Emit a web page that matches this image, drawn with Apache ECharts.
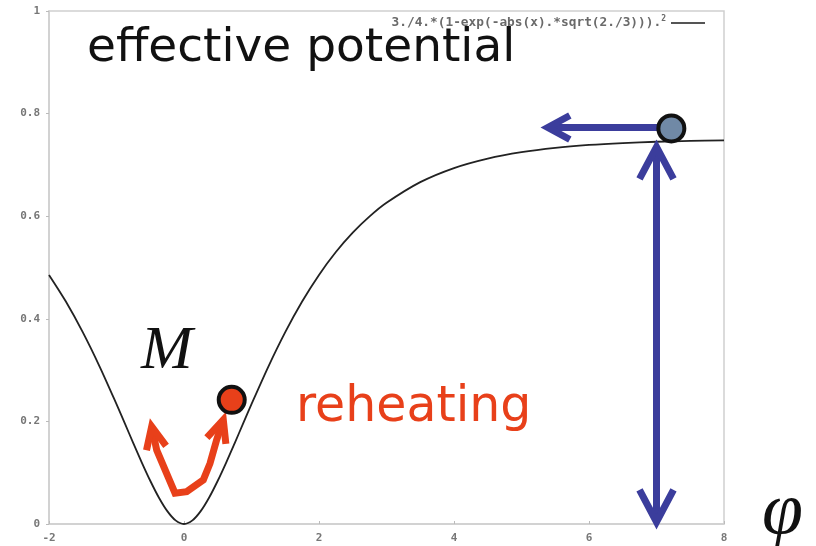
<!DOCTYPE html>
<html>
<head>
<meta charset="utf-8">
<script src="https://cdn.jsdelivr.net/npm/echarts@6/dist/echarts.min.js"></script>
<style>
  html, body { margin: 0; padding: 0; background: #fff; }
  #chart { width: 816px; height: 546px; }
</style>
</head>
<body>
<div id="chart"></div>
<script>
// Potential curve samples (phi, V)
const phiValues = [-2, -1.75, -1.5, -1.25, -1, -0.875, -0.75, -0.625, -0.5, -0.375, -0.25, -0.125, 0,
  0.125, 0.25, 0.375, 0.5, 0.625, 0.75, 0.875, 1, 1.25, 1.5, 1.75, 2, 2.25, 2.5, 2.75, 3, 3.5, 4, 4.5, 5, 5.5, 6, 6.5, 7, 7.5, 8];
const potentialValues = [0.4856, 0.4337, 0.3740, 0.3069, 0.2336, 0.1955, 0.1573, 0.1198, 0.0843, 0.0522, 0.0256, 0.0071, 0,
  0.0071, 0.0256, 0.0522, 0.0843, 0.1198, 0.1573, 0.1955, 0.2336, 0.3069, 0.3740, 0.4337, 0.4856, 0.5301, 0.5679, 0.5996, 0.6261, 0.6664, 0.6939, 0.7124, 0.7249, 0.7333, 0.7389, 0.7426, 0.7451, 0.7467, 0.7478];

const xTicks = [-2, 0, 2, 4, 6, 8];
const yTicks = [0, 0.2, 0.4, 0.6, 0.8, 1];

// Field positions
const plateauBall = [7.22, 0.771];
const reheatBall = [0.707, 0.242];

// Arrow paths in (phi, V); heads drawn at the listed ends
const rollArrow = [[7.22, 0.773], [5.39, 0.773]];
const heightArrow = [[7.0, 0.735], [7.0, 0.004]];
const oscillationArrow = [[-0.479, 0.190], [-0.404, 0.144], [-0.133, 0.060], [0.040, 0.063], [0.286, 0.086],
  [0.385, 0.118], [0.484, 0.164], [0.582, 0.203]];

const BLUE = '#3b3d9c';
const RED = '#e8401a';

const arrows = [
  { path: rollArrow, color: BLUE, width: 7, headLen: 22, headHalf: 12, heads: ['end'] },
  { path: heightArrow, color: BLUE, width: 7, headLen: 32, headHalf: 17, heads: ['start', 'end'] },
  { path: oscillationArrow, color: RED, width: 7, headLen: 22, headHalf: 10, heads: ['start', 'end'] }
];

function chevron(tip, from, len, half) {
  const dx = tip[0] - from[0], dy = tip[1] - from[1];
  const d = Math.hypot(dx, dy) || 1;
  const ux = dx / d, uy = dy / d;
  const bx = tip[0] - ux * len, by = tip[1] - uy * len;
  return [[bx - uy * half, by + ux * half], tip, [bx + uy * half, by - ux * half]];
}

function renderArrow(params, api) {
  const a = arrows[api.value(0)];
  const pts = a.path.map(p => api.coord(p));
  const style = { stroke: a.color, lineWidth: a.width, fill: null, lineJoin: 'miter', lineCap: 'butt' };
  const children = [{ type: 'polyline', shape: { points: pts }, style: style }];
  if (a.heads.indexOf('end') >= 0) {
    children.push({ type: 'polyline', shape: { points: chevron(pts[pts.length - 1], pts[pts.length - 2], a.headLen, a.headHalf) }, style: style });
  }
  if (a.heads.indexOf('start') >= 0) {
    children.push({ type: 'polyline', shape: { points: chevron(pts[0], pts[1], a.headLen, a.headHalf) }, style: style });
  }
  return { type: 'group', children: children };
}

const chart = echarts.init(document.getElementById('chart'), null, { renderer: 'canvas' });

const axisLabelStyle = { fontFamily: 'DejaVu Sans Mono', fontSize: 11, fontWeight: 'bold', color: '#777' };

chart.setOption({
  backgroundColor: '#ffffff',
  animation: false,
  grid: { left: 49, right: 92, top: 11, bottom: 22, show: true, borderColor: '#cfcfcf', borderWidth: 1.5 },
  xAxis: {
    type: 'value', min: xTicks[0], max: xTicks[xTicks.length - 1], interval: 2,
    axisLine: { onZero: false, lineStyle: { color: '#cfcfcf', width: 1.5 } },
    axisTick: { inside: true, length: 3, lineStyle: { color: '#bbb' } },
    splitLine: { show: false },
    axisLabel: Object.assign({ margin: 9 }, axisLabelStyle)
  },
  yAxis: {
    type: 'value', min: yTicks[0], max: yTicks[yTicks.length - 1], interval: 0.2,
    axisLine: { show: true, onZero: false, lineStyle: { color: '#cfcfcf', width: 1.5 } },
    axisTick: { show: true, length: 3, lineStyle: { color: '#bbb' } },
    splitLine: { show: false },
    axisLabel: Object.assign({ margin: 9 }, axisLabelStyle)
  },
  legend: {
    right: 106, top: 10,
    align: 'right',
    itemWidth: 34, itemHeight: 10, itemGap: 0,
    icon: 'path://M0,4 L34,4 L34,6 L0,6 Z',
    data: [{ name: 'V', itemStyle: { color: '#555' } }],
    formatter: () => '{t|3./4.*(1-exp(-abs(x).*sqrt(2./3))).}{s|2}',
    textStyle: {
      rich: {
        t: { fontFamily: 'DejaVu Sans Mono', fontSize: 12.8, fontWeight: 'bold', color: '#6a6a6a' },
        s: { fontFamily: 'DejaVu Sans Mono', fontSize: 8, fontWeight: 'bold', color: '#6a6a6a', verticalAlign: 'top', padding: [0, 0, 8, 0] }
      }
    }
  },
  series: [
    {
      name: 'V', type: 'line', smooth: 0.3, showSymbol: false, z: 2,
      lineStyle: { color: '#222', width: 1.8 },
      itemStyle: { color: '#555' },
      data: phiValues.map((x, i) => [x, potentialValues[i]])
    },
    {
      type: 'custom', z: 3, renderItem: renderArrow,
      data: arrows.map((a, i) => [i]),
      encode: { x: [], y: [] }
    },
    {
      type: 'scatter', z: 5, symbol: 'circle', symbolSize: 26,
      itemStyle: { color: '#7089a6', borderColor: '#111', borderWidth: 4, opacity: 1 },
      data: [plateauBall]
    },
    {
      type: 'scatter', z: 5, symbol: 'circle', symbolSize: 26,
      itemStyle: { color: RED, borderColor: '#111', borderWidth: 4, opacity: 1 },
      data: [reheatBall]
    }
  ],
  graphic: [
    { type: 'text', left: 87, top: 25, z: 10,
      style: { text: 'effective potential', font: '47px "DejaVu Sans"', fill: '#111' } },
    { type: 'text', left: 296, top: 384, z: 10,
      style: { text: 'reheating', font: '49px "DejaVu Sans"', fill: RED } },
    { type: 'text', left: 141, top: 321, z: 10,
      style: { text: 'M', font: 'italic 62px "Liberation Serif"', fill: '#111' } },
    { type: 'text', left: 762, top: 477, z: 10,
      style: { text: 'φ', font: 'italic 74px "Liberation Serif"', fill: '#111' } }
  ]
});
</script>
</body>
</html>
